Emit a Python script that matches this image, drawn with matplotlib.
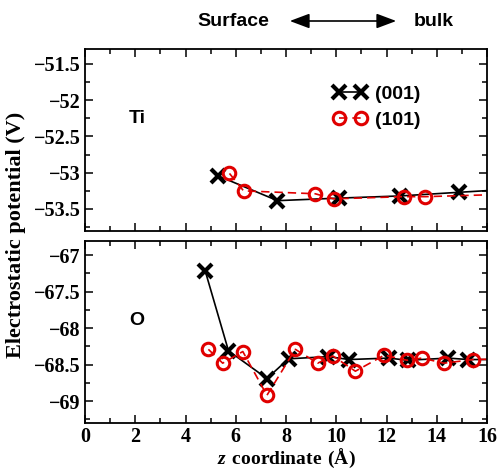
import matplotlib.pyplot as plt
from matplotlib.patches import FancyArrowPatch
from matplotlib.ticker import MultipleLocator, FuncFormatter

plt.rcParams['font.family'] = ['Liberation Serif', 'DejaVu Serif']
plt.rcParams['font.weight'] = 'bold'
plt.rcParams['font.size'] = 14
plt.rcParams['mathtext.fontset'] = 'custom'
plt.rcParams['mathtext.bfit'] = 'Liberation Serif:italic:bold'
plt.rcParams['mathtext.bf'] = 'Liberation Serif:bold'
plt.rcParams['mathtext.rm'] = 'Liberation Serif:bold'

# Ti layer potentials
ti_001_z = [5.31, 7.66, 10.09, 12.55, 14.87, 17.3]
ti_001_v = [-53.045, -53.385, -53.35, -53.32, -53.27, -53.22]
ti_101_z = [5.75, 6.31, 9.16, 9.89, 12.68, 13.55, 16.5]
ti_101_v = [-53.01, -53.25, -53.29, -53.36, -53.33, -53.33, -53.30]

# O layer potentials
o_001_z = [4.78, 5.71, 7.24, 8.10, 9.69, 10.51, 12.08, 12.84, 14.45, 15.24, 17.0]
o_001_v = [-67.21, -68.31, -68.69, -68.42, -68.39, -68.43, -68.41, -68.44, -68.41, -68.43, -68.43]
o_101_z = [4.91, 5.48, 6.28, 7.24, 8.37, 9.26, 9.86, 10.76, 11.91, 12.82, 13.41, 14.28, 15.45, 17.0]
o_101_v = [-68.29, -68.48, -68.32, -68.92, -68.29, -68.48, -68.38, -68.59, -68.37, -68.44, -68.41, -68.48, -68.43, -68.42]

red = '#e00000'
sans = 'Liberation Sans'

fig = plt.figure(figsize=(4.97, 4.70), dpi=100)
ax1 = fig.add_axes([0.171, 0.509, 0.809, 0.386])
ax2 = fig.add_axes([0.171, 0.100, 0.809, 0.388])

fmt = FuncFormatter(lambda v, pos: ('%g' % v).replace('-', '\u2212'))

def style(ax, ylim):
    ax.set_xlim(0, 16)
    ax.set_ylim(*ylim)
    ax.xaxis.set_major_locator(MultipleLocator(2))
    ax.xaxis.set_minor_locator(MultipleLocator(1))
    ax.yaxis.set_major_locator(MultipleLocator(0.5))
    ax.yaxis.set_minor_locator(MultipleLocator(0.25))
    ax.yaxis.set_major_formatter(fmt)
    ax.tick_params(which='both', direction='in', top=True, right=True, width=1.1,
                   labelsize=14.5, pad=3)
    ax.tick_params(which='major', length=6)
    ax.tick_params(which='minor', length=3.5)
    for s in ax.spines.values():
        s.set_linewidth(1.3)

# top panel
ax1.plot(ti_001_z, ti_001_v, color='black', lw=1.2, marker='x', ms=10, mew=3,
         label='(001)')
ax1.plot(ti_101_z, ti_101_v, color=red, lw=1.2, ls=(0, (5, 3)), marker='o', ms=9,
         mew=2.2, mfc='none', label='(101)')
style(ax1, (-53.8, -51.3))
ax1.tick_params(labelbottom=False)
ax1.text(2.06, -52.25, 'Ti', fontfamily=sans, fontweight='bold', fontsize=14,
         ha='center', va='center')
leg = ax1.legend(loc='upper left', bbox_to_anchor=(0.573, 0.90), numpoints=2,
                 handlelength=1.75, frameon=False, handletextpad=0.4,
                 labelspacing=0.45,
                 prop={'family': sans, 'weight': 'bold', 'size': 14})

# bottom panel
ax2.plot(o_001_z, o_001_v, color='black', lw=1.2, marker='x', ms=10, mew=3)
ax2.plot(o_101_z, o_101_v, color=red, lw=1.2, ls=(0, (5, 3)), marker='o', ms=9,
         mew=2.2, mfc='none')
style(ax2, (-69.3, -66.8))
ax2.text(2.06, -67.9, 'O', fontfamily=sans, fontweight='bold', fontsize=14,
         ha='center', va='center')
ax2.set_xlabel('$\\mathbfit{z}\\ \\mathbf{coordinate\\ (\u00c5)}$', fontsize=14,
               labelpad=0)

fig.text(0.032, 0.5, 'Electrostatic potential (V)', rotation=90, ha='center',
         va='center', fontsize=16)

# surface <-> bulk arrow
fig.text(233 / 497, 1 - 21 / 470, 'Surface', ha='center', va='center',
         fontfamily=sans, fontweight='bold', fontsize=14)
fig.text(434 / 497, 1 - 21 / 470, 'bulk', ha='center', va='center',
         fontfamily=sans, fontweight='bold', fontsize=14)
fig.patches.append(FancyArrowPatch(
    (287 / 497, 1 - 21 / 470), (399 / 497, 1 - 21 / 470),
    transform=fig.transFigure, arrowstyle='<|-|>,head_length=12,head_width=4.5',
    color='black', lw=1.2, mutation_scale=1.0))

fig.savefig('out.png', dpi=100)
